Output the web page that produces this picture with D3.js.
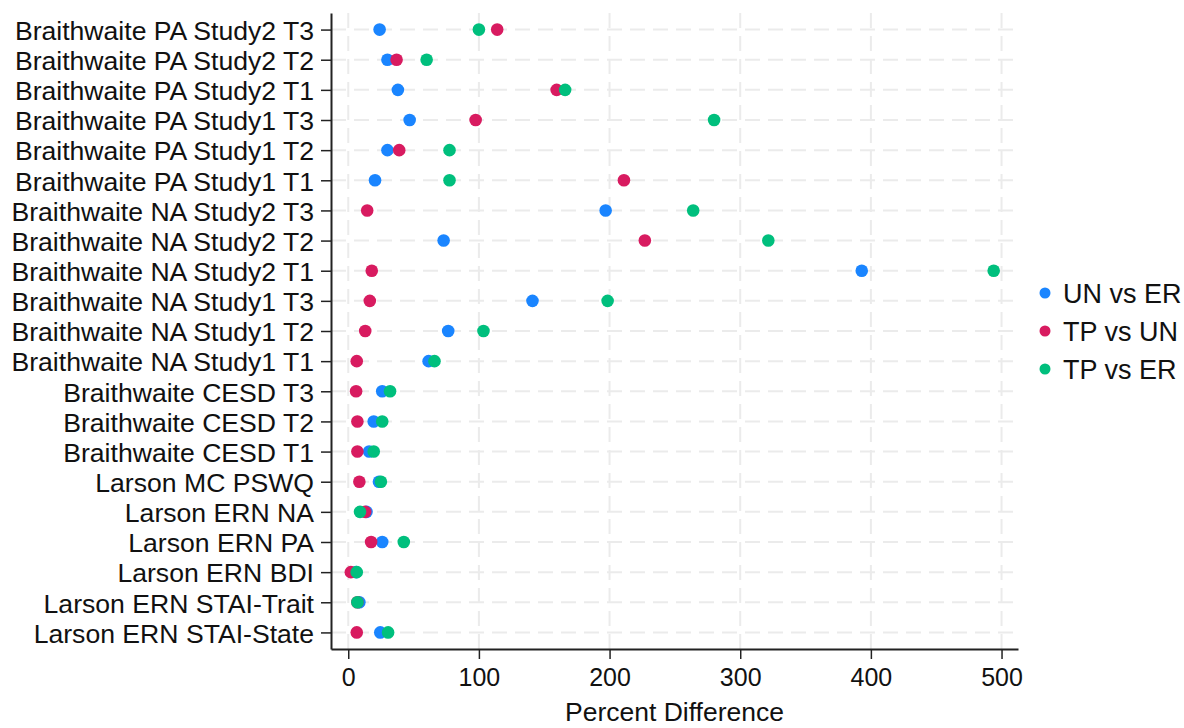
<!DOCTYPE html>
<html>
<head>
<meta charset="utf-8">
<title>percent difference</title>
<script src="https://d3js.org/d3.v7.min.js"></script>
<style>
  body { margin: 0; background: #fff; }
  svg text { font-family: "Liberation Sans", Arial, Helvetica, sans-serif; fill: #111; }
</style>
</head>
<body>
<svg id="chart" width="1184" height="728"></svg>
<script>
// rows, top to bottom
const labels = [
  "Braithwaite PA Study2 T3", "Braithwaite PA Study2 T2", "Braithwaite PA Study2 T1",
  "Braithwaite PA Study1 T3", "Braithwaite PA Study1 T2", "Braithwaite PA Study1 T1",
  "Braithwaite NA Study2 T3", "Braithwaite NA Study2 T2", "Braithwaite NA Study2 T1",
  "Braithwaite NA Study1 T3", "Braithwaite NA Study1 T2", "Braithwaite NA Study1 T1",
  "Braithwaite CESD T3", "Braithwaite CESD T2", "Braithwaite CESD T1",
  "Larson MC PSWQ", "Larson ERN NA", "Larson ERN PA", "Larson ERN BDI",
  "Larson ERN STAI-Trait", "Larson ERN STAI-State"
];
const unVsEr = [24, 30, 38, 47, 30, 20.5, 197, 73, 393, 141, 76.5, 61.5, 26, 19.5, 16, 23.5, 14, 26, 6, 8.5, 24.5];
const tpVsUn = [114, 37, 159.5, 97.5, 39, 211, 14.5, 227, 18, 16.5, 13, 6.5, 6, 7, 7, 8.5, 13, 17.5, 2, 7, 6.5];
const tpVsEr = [100, 60, 166, 280, 77.5, 77.5, 264, 321.5, 494, 198.5, 103.5, 66, 32, 26, 19.5, 25, 9, 42.5, 6.5, 7, 30.5];
const seriesNames = ["UN vs ER", "TP vs UN", "TP vs ER"];
const seriesColors = ["#1A85FF", "#D81B60", "#00BF7D"];
const xTicks = [0, 100, 200, 300, 400, 500];

const series = [unVsEr, tpVsUn, tpVsEr];
const svg = d3.select("#chart");

const plotL = 331, plotR = 1018, plotT = 13, plotB = 649;

const x = d3.scaleLinear().domain([-13.2, 512.6]).range([plotL, plotR]);
const y = d3.scalePoint().domain(labels).range([plotT, plotB]).padding(0.55);

// grid
const grid = svg.append("g").attr("stroke", "#ebebeb").attr("stroke-width", 2).attr("stroke-dasharray", "15,8");
grid.selectAll("line.v").data(xTicks).join("line").attr("class", "v")
  .attr("x1", d => x(d)).attr("x2", d => x(d))
  .attr("y1", plotT).attr("y2", plotB);
grid.selectAll("line.h").data(labels).join("line").attr("class", "h")
  .attr("x1", plotL).attr("x2", plotR)
  .attr("y1", d => y(d)).attr("y2", d => y(d));

// y axis
const yAxis = svg.append("g").attr("transform", `translate(${plotL},0)`)
  .call(d3.axisLeft(y).tickSize(10).tickPadding(7).tickSizeOuter(0));
yAxis.select(".domain").attr("stroke", "#222").attr("stroke-width", 2);
yAxis.selectAll(".tick line").attr("stroke", "#222").attr("stroke-width", 1.5);
yAxis.selectAll(".tick text").attr("font-size", 26.6).attr("dy", "0.37em")
  .style("font-family", "'Liberation Sans', Arial, sans-serif").attr("fill", "#0a0a0a");

// x axis
const xAxis = svg.append("g").attr("transform", `translate(0,${plotB})`)
  .call(d3.axisBottom(x).tickValues(xTicks).tickSize(10).tickPadding(9).tickSizeOuter(0));
xAxis.select(".domain").attr("stroke", "#222").attr("stroke-width", 2);
xAxis.selectAll(".tick line").attr("stroke", "#222").attr("stroke-width", 1.5);
xAxis.selectAll(".tick text").attr("font-size", 25)
  .style("font-family", "'Liberation Sans', Arial, sans-serif").attr("fill", "#0a0a0a");

svg.append("text")
  .attr("x", (plotL + plotR) / 2).attr("y", 721)
  .attr("text-anchor", "middle").attr("font-size", 26.5)
  .text("Percent Difference");

// points
series.forEach((vals, i) => {
  svg.append("g").selectAll("circle").data(vals).join("circle")
    .attr("cx", d => x(d))
    .attr("cy", (d, j) => y(labels[j]))
    .attr("r", 6.3)
    .attr("fill", seriesColors[i]);
});

// legend
const legend = svg.append("g").selectAll("g").data(seriesNames).join("g")
  .attr("transform", (d, i) => `translate(1045,${293 + i * 38})`);
legend.append("circle").attr("r", 5.5).attr("fill", (d, i) => seriesColors[i]);
legend.append("text").attr("x", 18).attr("y", 9.5).attr("font-size", 27).text(d => d);
</script>
</body>
</html>
